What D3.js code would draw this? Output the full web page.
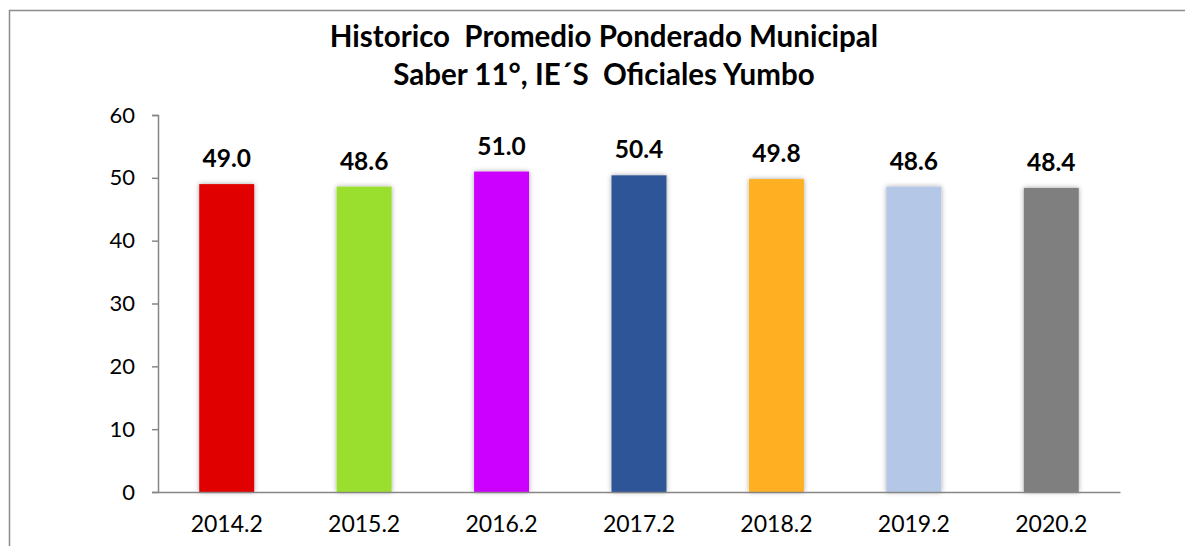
<!DOCTYPE html>
<html>
<head>
<meta charset="utf-8">
<script src="https://cdn.jsdelivr.net/npm/d3@7"></script>
<style>
  body { margin: 0; background: #fff; }
  svg { display: block; font-family: Lato, "Open Sans", sans-serif; }
</style>
</head>
<body>
<svg id="chart" width="1185" height="546"></svg>
<script>
var periods = ['2014.2', '2015.2', '2016.2', '2017.2', '2018.2', '2019.2', '2020.2'];
var scores = [49.0, 48.6, 51.0, 50.4, 49.8, 48.6, 48.4];
var barColors = ['#e10000', '#9bdf2f', '#cc00ff', '#2e5597', '#ffb020', '#b4c7e7', '#7f7f7f'];
var yTicks = [0, 10, 20, 30, 40, 50, 60];
var titleLines = ['Historico  Promedio Ponderado Municipal', 'Saber 11°, IE´S  Oficiales Yumbo'];

var svg = d3.select('#chart');

// soft shadow under the bars
var shadow = svg.append('defs').append('filter')
  .attr('id', 'barShadow')
  .attr('x', '-20%').attr('y', '-10%')
  .attr('width', '140%').attr('height', '120%');
shadow.append('feDropShadow')
  .attr('dx', 0).attr('dy', 0)
  .attr('stdDeviation', 2.5)
  .attr('flood-color', '#000')
  .attr('flood-opacity', 0.35);

// chart border (right and bottom run off the page)
svg.append('rect')
  .attr('x', 9.5).attr('y', 10.5)
  .attr('width', 1200).attr('height', 560)
  .attr('fill', 'none')
  .attr('stroke', '#8c8c8c')
  .attr('stroke-width', 1.5);

var x = d3.scaleBand()
  .domain(periods)
  .range([158, 1120])
  .paddingInner(0.6)
  .paddingOuter(0.3);

var y = d3.scaleLinear()
  .domain([0, 60])
  .range([492, 115]);

// title
svg.append('text')
  .attr('text-anchor', 'middle')
  .attr('font-weight', 'bold')
  .attr('font-size', 29.5)
  .attr('fill', '#000')
  .selectAll('tspan')
  .data(titleLines)
  .enter().append('tspan')
  .attr('x', 604)
  .attr('y', function (d, i) { return 47 + i * 38; })
  .attr('xml:space', 'preserve')
  .style('white-space', 'pre')
  .text(function (d) { return d; });

// bars
svg.append('g')
  .selectAll('rect')
  .data(scores)
  .enter().append('rect')
  .attr('x', function (d, i) { return x(periods[i]); })
  .attr('y', function (d) { return y(d); })
  .attr('width', x.bandwidth())
  .attr('height', function (d) { return y(0) - y(d); })
  .attr('fill', function (d, i) { return barColors[i]; })
  .attr('filter', 'url(#barShadow)');

// value labels
svg.append('g')
  .selectAll('text')
  .data(scores)
  .enter().append('text')
  .attr('x', function (d, i) { return x(periods[i]) + x.bandwidth() / 2; })
  .attr('y', function (d) { return y(d) - 17; })
  .attr('text-anchor', 'middle')
  .attr('font-weight', 'bold')
  .attr('font-size', 24.5)
  .text(function (d) { return d.toFixed(1); });

// y axis
var yAxis = svg.append('g')
  .attr('transform', 'translate(158,0)')
  .call(d3.axisLeft(y).tickValues(yTicks).tickSize(6).tickPadding(17));
yAxis.select('.domain').attr('stroke', '#868686').attr('stroke-width', 1.5);
yAxis.selectAll('.tick line').attr('stroke', '#868686').attr('stroke-width', 1.5);
yAxis.selectAll('.tick text')
  .attr('font-size', 22)
  .attr('font-family', 'Lato, "Open Sans", sans-serif')
  .attr('fill', '#000');

// x axis
var xAxis = svg.append('g')
  .attr('transform', 'translate(0,492)')
  .call(d3.axisBottom(x).tickSize(0).tickPadding(24));
xAxis.select('.domain').attr('stroke', '#868686').attr('stroke-width', 1.5);
xAxis.selectAll('.tick text')
  .attr('font-size', 23)
  .attr('font-family', 'Lato, "Open Sans", sans-serif')
  .attr('fill', '#000');
</script>
</body>
</html>
